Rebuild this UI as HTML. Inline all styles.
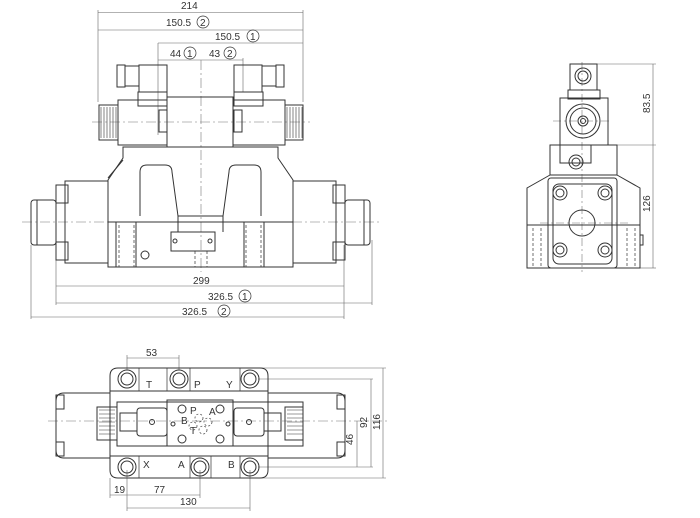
<!DOCTYPE html>
<html><head><meta charset="utf-8"><style>
html,body{margin:0;padding:0;background:#fff;}
svg{display:block}
text{font-family:"Liberation Sans",sans-serif;font-size:10px;fill:#333}
</style></head><body>
<svg width="700" height="518" viewBox="0 0 700 518" xmlns="http://www.w3.org/2000/svg">
<g fill="none" stroke="#333" stroke-width="1">
<!-- ===== TOP VIEW dims ===== -->
<g stroke-width="0.6" stroke="#666">
<line x1="98" y1="12.5" x2="303" y2="12.5"/>
<line x1="98" y1="30" x2="303" y2="30"/>
<line x1="158" y1="43" x2="303" y2="43"/>
<line x1="158" y1="60" x2="243" y2="60"/>
<line x1="98" y1="10" x2="98" y2="102"/>
<line x1="303" y1="10" x2="303" y2="102"/>
<line x1="158" y1="43" x2="158" y2="135"/>
<line x1="243" y1="58" x2="243" y2="92"/>
<line x1="56" y1="245" x2="56" y2="305"/>
<line x1="344" y1="245" x2="344" y2="319"/>
<line x1="372" y1="240" x2="372" y2="305"/>
<line x1="31" y1="245" x2="31" y2="319"/>
<line x1="56" y1="286" x2="344" y2="286"/>
<line x1="56" y1="303" x2="372" y2="303"/>
<line x1="31" y1="317" x2="344" y2="317"/>
</g>
<g stroke-width="0.6" stroke="#777" stroke-dasharray="10,3,2,3">
<line x1="201" y1="60" x2="201" y2="272"/>
<line x1="92" y1="122" x2="310" y2="122"/>
<line x1="22" y1="222" x2="380" y2="222"/>
</g>
<!-- connectors -->
<rect x="117" y="65" width="8" height="22"/>
<rect x="125" y="66" width="14" height="20"/>
<rect x="139" y="65" width="28" height="27"/>
<rect x="138" y="92" width="29" height="14"/>
<rect x="276" y="65" width="8" height="22"/>
<rect x="262" y="66" width="14" height="20"/>
<rect x="234" y="65" width="28" height="27"/>
<rect x="234" y="92" width="29" height="14"/>
<!-- coils -->
<rect x="118" y="100" width="49" height="45"/>
<rect x="99" y="105" width="19" height="35"/>
<path d="M101 107v31M104 107v31M107 107v31M110 107v31M113 107v31M116 107v31" stroke-width="0.6"/>
<rect x="233" y="100" width="52" height="45"/>
<rect x="285" y="105" width="18" height="35"/>
<path d="M287 107v31M290 107v31M293 107v31M296 107v31M299 107v31M302 107v31" stroke-width="0.6"/>
<rect x="159" y="110" width="8" height="22"/>
<rect x="234" y="110" width="8" height="22"/>
<rect x="167" y="97" width="66" height="50"/>
<!-- main body -->
<path d="M123 147H278V158L293 180V267H108V180L123 158Z"/>
<path d="M123 160L108 178"/>
<path d="M140 216V172Q140 165 147 165H165Q172 165 172 172L178 216V232"/>
<path d="M261 216V172Q261 165 254 165H236Q229 165 229 172L223 216V232"/>
<line x1="178" y1="216" x2="223" y2="216"/>
<line x1="108" y1="222" x2="293" y2="222"/>
<rect x="171" y="232" width="44" height="19"/>
<circle cx="175" cy="241" r="2"/><circle cx="210" cy="241" r="2"/>
<circle cx="145" cy="255" r="4"/>
<g stroke-dasharray="3,2" stroke-width="0.7">
<path d="M119 225V267M134 225V267M195 251V267M207 251V267M246 225V267M261 225V267"/>
</g>
<rect x="116" y="222" width="20" height="45"/>
<rect x="244" y="222" width="20" height="45"/>
<!-- end caps -->
<path d="M108 181H65V263H108"/>
<rect x="56" y="185" width="12" height="18"/><rect x="56" y="242" width="12" height="18"/>
<line x1="56" y1="203" x2="56" y2="242"/>
<rect x="31" y="200" width="25" height="45" rx="3"/>
<line x1="37" y1="200" x2="37" y2="245"/>
<path d="M293 181H336V263H293"/>
<rect x="333" y="185" width="12" height="18"/><rect x="333" y="242" width="12" height="18"/>
<line x1="345" y1="203" x2="345" y2="242"/>
<rect x="345" y="200" width="25" height="45" rx="3"/>
<line x1="364" y1="200" x2="364" y2="245"/>

<!-- ===== BOTTOM VIEW ===== -->
<g stroke-width="0.6" stroke="#666">
<line x1="127" y1="358" x2="179" y2="358"/>
<line x1="127" y1="355" x2="127" y2="370"/><line x1="179" y1="355" x2="179" y2="370"/>
<line x1="110" y1="495" x2="200" y2="495"/>
<line x1="127" y1="508" x2="250" y2="508"/>
<line x1="110" y1="478" x2="110" y2="498"/>
<line x1="127" y1="470" x2="127" y2="511"/>
<line x1="200" y1="470" x2="200" y2="498"/>
<line x1="250" y1="470" x2="250" y2="511"/>
<line x1="250" y1="368" x2="386" y2="368"/>
<line x1="258" y1="379" x2="373" y2="379"/>
<line x1="258" y1="467" x2="373" y2="467"/>
<line x1="250" y1="478" x2="386" y2="478"/>
<line x1="383" y1="368" x2="383" y2="478"/>
<line x1="371" y1="379" x2="371" y2="467"/>
<line x1="357" y1="421" x2="357" y2="467"/>
</g>
<line x1="48" y1="421" x2="390" y2="421" stroke-width="0.6" stroke="#777" stroke-dasharray="10,3,2,3"/>
<path d="M118 368H260Q268 368 268 376V470Q268 478 260 478H118Q110 478 110 470V376Q110 368 118 368Z"/>
<line x1="110" y1="391" x2="268" y2="391"/>
<line x1="110" y1="456" x2="268" y2="456"/>
<path d="M139 368V391M167 368V391M190 368V391M240 368V391M139 456V478M190 456V478M211 456V478M240 456V478" stroke-width="0.7"/>
<g>
<circle cx="127" cy="379" r="9"/><circle cx="127" cy="379" r="6"/>
<circle cx="179" cy="379" r="9"/><circle cx="179" cy="379" r="6"/>
<circle cx="250" cy="379" r="9"/><circle cx="250" cy="379" r="6"/>
<circle cx="127" cy="467" r="9"/><circle cx="127" cy="467" r="6"/>
<circle cx="200" cy="467" r="9"/><circle cx="200" cy="467" r="6"/>
<circle cx="250" cy="467" r="9"/><circle cx="250" cy="467" r="6"/>
</g>
<path d="M110 393H64Q56 393 56 401V450Q56 458 64 458H110"/>
<rect x="56" y="395" width="8" height="14"/><rect x="56" y="442" width="8" height="14"/>
<path d="M268 393H337Q345 393 345 401V450Q345 458 337 458H268"/>
<rect x="337" y="395" width="8" height="14"/><rect x="337" y="442" width="8" height="14"/>
<rect x="117" y="402" width="186" height="44"/>
<rect x="97" y="407" width="20" height="33"/>
<path d="M99 410h16M99 414h16M99 418h16M99 422h16M99 426h16M99 430h16M99 434h16" stroke-width="0.6"/>
<rect x="285" y="407" width="18" height="33"/>
<path d="M287 410h16M287 414h16M287 418h16M287 422h16M287 426h16M287 430h16M287 434h16" stroke-width="0.6"/>
<rect x="137" y="408" width="30" height="28" rx="3"/>
<rect x="120" y="413" width="17" height="18"/>
<circle cx="152" cy="422" r="2.5"/>
<rect x="234" y="408" width="30" height="28" rx="3"/>
<rect x="264" y="413" width="17" height="18"/>
<circle cx="249" cy="422" r="2.5"/>
<rect x="167" y="400" width="66" height="46"/>
<circle cx="182" cy="409" r="4"/><circle cx="220" cy="409" r="4"/>
<circle cx="182" cy="439" r="4"/><circle cx="220" cy="439" r="4"/>
<circle cx="173" cy="424" r="2"/><circle cx="228" cy="424" r="2"/>
<g stroke-dasharray="2,2" stroke-width="0.7">
<circle cx="199" cy="418" r="4"/><circle cx="208" cy="422" r="4"/>
<circle cx="193" cy="426" r="4"/><circle cx="203" cy="430" r="4"/>
</g>
<!-- ===== SIDE VIEW ===== -->
<g stroke-width="0.6" stroke="#666">
<line x1="597" y1="64" x2="656" y2="64"/>
<line x1="608" y1="145" x2="656" y2="145"/>
<line x1="640" y1="268" x2="656" y2="268"/>
<line x1="653" y1="64" x2="653" y2="268"/>
</g>
<g stroke-width="0.6" stroke="#777" stroke-dasharray="8,3,2,3">
<line x1="582" y1="62" x2="582" y2="272"/>
<line x1="553" y1="121" x2="612" y2="121"/>
<line x1="540" y1="223" x2="628" y2="223"/>
</g>
<rect x="570" y="64" width="27" height="26"/>
<circle cx="583" cy="76" r="8"/><circle cx="583" cy="76" r="5"/>
<rect x="568" y="90" width="32" height="9"/>
<rect x="560" y="98" width="48" height="47"/>
<circle cx="583" cy="121" r="17"/><circle cx="583" cy="121" r="13"/>
<circle cx="583" cy="121" r="5"/><circle cx="583" cy="121" r="2.5"/>
<rect x="550" y="145" width="67" height="30"/>
<rect x="560" y="145" width="31" height="18"/>
<circle cx="576" cy="162" r="7"/><circle cx="576" cy="162" r="4"/>
<path d="M550 175L527 188V268H640V188L617 175"/>
<line x1="527" y1="225" x2="640" y2="225"/>
<rect x="548" y="178" width="69" height="90" rx="3"/>
<rect x="553" y="184" width="59" height="80" rx="6"/>
<circle cx="560" cy="193" r="7"/><circle cx="560" cy="193" r="4"/>
<circle cx="605" cy="193" r="7"/><circle cx="605" cy="193" r="4"/>
<circle cx="560" cy="250" r="7"/><circle cx="560" cy="250" r="4"/>
<circle cx="605" cy="250" r="7"/><circle cx="605" cy="250" r="4"/>
<circle cx="582" cy="223" r="13"/>
<g stroke-dasharray="3,2" stroke-width="0.7">
<path d="M533 228V268M541 228V268M627 228V268M635 228V268"/>
</g>
<rect x="640" y="235" width="3" height="10"/>
</g>
<!-- texts -->
<text x="181" y="9">214</text>
<text x="166" y="26">150.5</text><circle cx="203" cy="22" r="6" fill="none" stroke="#333" stroke-width="0.7"/><text x="200" y="26">2</text>
<text x="215" y="40">150.5</text><circle cx="253" cy="36" r="6" fill="none" stroke="#333" stroke-width="0.7"/><text x="250" y="40">1</text>
<text x="170" y="57">44</text><circle cx="190" cy="53" r="6" fill="none" stroke="#333" stroke-width="0.7"/><text x="187" y="57">1</text>
<text x="209" y="57">43</text><circle cx="230" cy="53" r="6" fill="none" stroke="#333" stroke-width="0.7"/><text x="227" y="57">2</text>
<text x="193" y="284">299</text>
<text x="208" y="300">326.5</text><circle cx="245" cy="296" r="6" fill="none" stroke="#333" stroke-width="0.7"/><text x="242" y="300">1</text>
<text x="182" y="315">326.5</text><circle cx="224" cy="311" r="6" fill="none" stroke="#333" stroke-width="0.7"/><text x="221" y="315">2</text>
<text x="146" y="356">53</text>
<text x="146" y="388">T</text><text x="194" y="388">P</text><text x="226" y="388">Y</text>
<text x="143" y="468">X</text><text x="178" y="468">A</text><text x="228" y="468">B</text>
<text x="190" y="414" font-size="8">P</text><text x="209" y="415" font-size="8">A</text>
<text x="181" y="424" font-size="8">B</text><text x="190" y="434" font-size="8">T</text>
<text x="114" y="493">19</text><text x="154" y="493">77</text><text x="180" y="505">130</text>
<text transform="translate(353,445) rotate(-90)">46</text>
<text transform="translate(367,428) rotate(-90)">92</text>
<text transform="translate(380,430) rotate(-90)">116</text>
<text transform="translate(650,113) rotate(-90)">83.5</text>
<text transform="translate(650,212) rotate(-90)">126</text>
</svg>
</body></html>
